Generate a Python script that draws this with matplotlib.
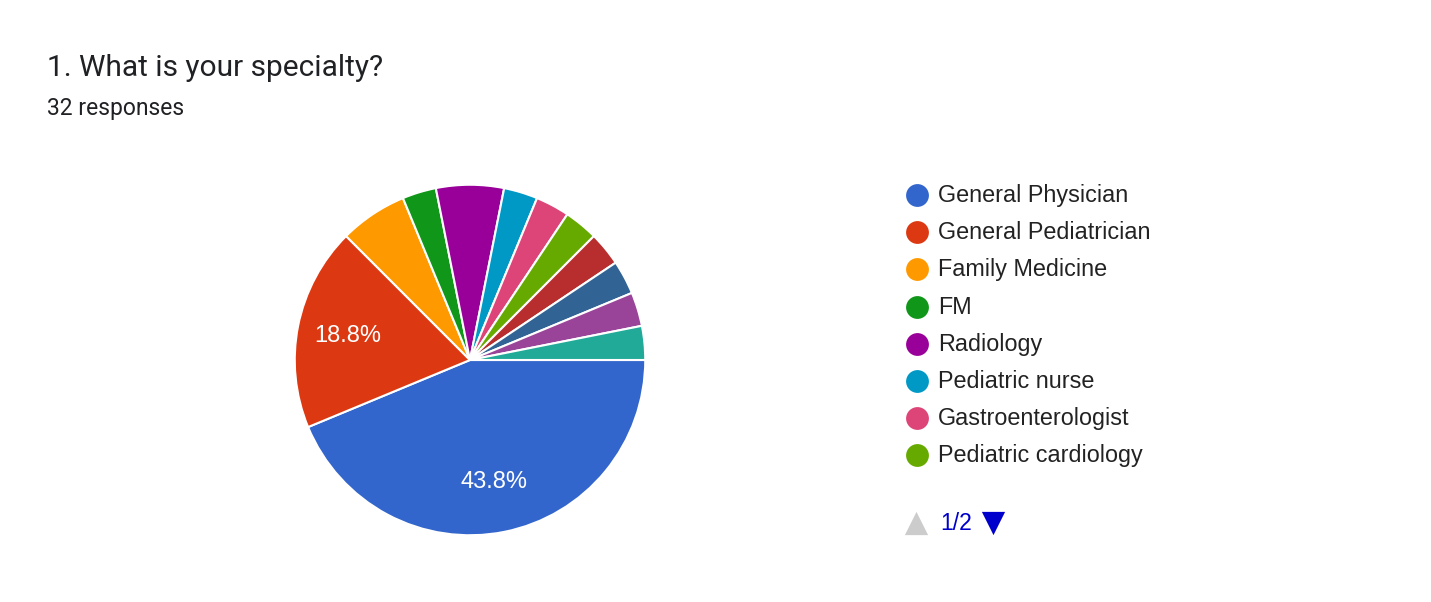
import matplotlib
matplotlib.use("Agg")
import matplotlib.pyplot as plt

plt.rcParams['font.family'] = ['Roboto', 'DejaVu Sans']

#---------------------Data----------------------------
title = "1. What is your specialty?"
subtitle = "32 responses"
labels = ["General Physician", "General Pediatrician", "Family Medicine", "FM",
          "Radiology", "Pediatric nurse", "Gastroenterologist", "Pediatric cardiology"]
# ответов всего 32, последние четыре сектора - со второй страницы легенды
counts = [14, 6, 2, 1, 2, 1, 1, 1, 1, 1, 1, 1]
colors = ["#3366cc", "#dc3912", "#ff9900", "#109618", "#990099", "#0099c6",
          "#dd4477", "#66aa00", "#b82e2e", "#316395", "#994499", "#22aa99"]
page_text = "1/2"

W, H = 1431, 602
chart_font = ['Liberation Sans', 'DejaVu Sans']
fig = plt.figure(figsize=(W / 100, H / 100), dpi=100)

#---------------------Pie-----------------------------
cx, cy, r = 470, 360, 177
ax = fig.add_axes([(cx - r) / W, (H - cy - r) / H, 2 * r / W, 2 * r / H])

def pct(p):
    return "%.1f%%" % p if p > 10 else ""

wedges, texts, autotexts = ax.pie(counts, colors=colors, startangle=0, counterclock=False,
                                  autopct=pct, pctdistance=0.71, radius=1,
                                  wedgeprops=dict(edgecolor="white", linewidth=1.5))
for t in autotexts:
    t.set_color("white")
    t.set_fontsize(17)
    t.set_family(chart_font)
ax.set_xlim(-1.01, 1.01)
ax.set_ylim(-1.01, 1.01)
ax.set_aspect("equal")
ax.axis("off")

#---------------------Texts and legend----------------
ov = fig.add_axes([0, 0, 1, 1])
ov.set_xlim(0, W)
ov.set_ylim(H, 0)
ov.axis("off")

ov.text(47, 68, title, fontsize=21.5, color="#202124", va="center", ha="left")
ov.text(47, 109, subtitle, fontsize=16.5, color="#202124", va="center", ha="left")

lx, ly, step = 917, 195, 37.2
for i, lab in enumerate(labels):
    y = ly + i * step
    ov.scatter([lx], [y], s=270, color=colors[i], marker="o", linewidths=0)
    ov.text(lx + 21, y + 7, lab, fontsize=16.8, color="#222222", va="baseline", ha="left",
            family=chart_font)

py = 523
ov.scatter([916], [py], s=280, marker="^", color="#cccccc", linewidths=0)
ov.text(940, py + 7, page_text, fontsize=16.5, color="#0000cc", va="baseline", ha="left",
        family=chart_font)
ov.scatter([993], [py], s=280, marker="v", color="#0000cc", linewidths=0)

fig.savefig("out.png", dpi=100)
